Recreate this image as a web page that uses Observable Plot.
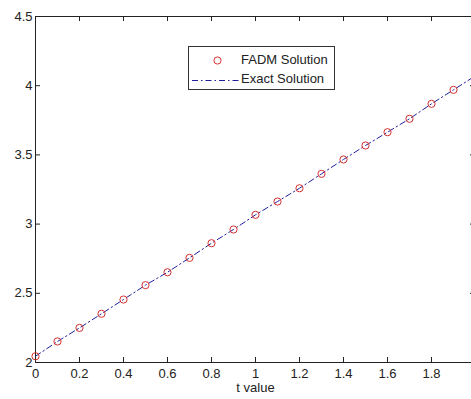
<!DOCTYPE html>
<html>
<head>
<meta charset="utf-8">
<script src="https://cdn.jsdelivr.net/npm/d3@7"></script>
<script src="https://cdn.jsdelivr.net/npm/@observablehq/plot@0.6"></script>
<style>
  html, body { margin: 0; padding: 0; background: #fff; overflow: hidden; }
  #wrap { position: relative; width: 471px; height: 399px; }
  #legend { position: absolute; left: 188px; top: 46px; width: 145px; height: 42px;
    border: 1px solid #333; background: #fff; font-family: "Liberation Sans", Arial, sans-serif;
    font-size: 13px; color: #222; }
  #legend .row { position: absolute; left: 0; height: 18px; width: 100%; }
  #legend .row span { position: absolute; left: 52px; top: 0px; }
  #legend svg { position: absolute; left: 0; top: 0; }
</style>
</head>
<body>
<div id="wrap"></div>
<script>
// FADM solution points
const tPoints = [0, 0.1, 0.2, 0.3, 0.4, 0.5, 0.6, 0.7, 0.8, 0.9, 1.0, 1.1, 1.2, 1.3, 1.4, 1.5, 1.6, 1.7, 1.8, 1.9];
const fadmValues = [2.045, 2.152, 2.250, 2.352, 2.455, 2.559, 2.652, 2.756, 2.862, 2.961, 3.067, 3.163, 3.259, 3.363, 3.467, 3.568, 3.664, 3.761, 3.869, 3.970];
// Exact solution line
const tExact = [0, 0.1, 0.2, 0.3, 0.4, 0.5, 0.6, 0.7, 0.8, 0.9, 1.0, 1.1, 1.2, 1.3, 1.4, 1.5, 1.6, 1.7, 1.8, 1.9, 2.0];
const exactValues = [2.045, 2.152, 2.250, 2.352, 2.455, 2.559, 2.652, 2.756, 2.862, 2.961, 3.067, 3.163, 3.259, 3.363, 3.467, 3.568, 3.664, 3.761, 3.869, 3.970, 4.072];
// Ticks
const xTicks = [0, 0.2, 0.4, 0.6, 0.8, 1, 1.2, 1.4, 1.6, 1.8];
const xTickLabels = ["0", "0.2", "0.4", "0.6", "0.8", "1", "1.2", "1.4", "1.6", "1.8"];
const yTicks = [2, 2.5, 3, 3.5, 4, 4.5];
const yTickLabels = ["2", "2.5", "3", "3.5", "4", "4.5"];
const xLabel = "t value";
const seriesNames = ["FADM Solution", "Exact Solution"];

const fadm = tPoints.map((t, i) => ({t, y: fadmValues[i]}));
const exact = tExact.map((t, i) => ({t, y: exactValues[i]}));

const axisColor = "#222";
const plot = Plot.plot({
  width: 471,
  height: 399,
  marginLeft: 35,
  marginRight: -4,
  marginTop: 16,
  marginBottom: 37,
  style: {fontFamily: "'Liberation Sans', Arial, sans-serif", fontSize: "13px", color: axisColor, background: "#fff"},
  x: {domain: [0, 2]},
  y: {domain: [2, 4.5]},
  marks: [
    Plot.frame({stroke: axisColor, strokeWidth: 1}),
    // inward ticks on all four sides
    Plot.tickX(xTicks, {x: d => d, insetTop: 341, stroke: axisColor}),
    Plot.tickX(xTicks, {x: d => d, insetBottom: 341, stroke: axisColor}),
    Plot.tickY(yTicks, {y: d => d, insetRight: 435, stroke: axisColor}),
    Plot.tickY(yTicks, {y: d => d, insetLeft: 435, stroke: axisColor}),
    Plot.axisX({ticks: xTicks, tickFormat: (d, i) => xTickLabels[i], tickSize: 0, tickPadding: 6, label: null}),
    Plot.axisY({ticks: yTicks, tickFormat: (d, i) => yTickLabels[i], tickSize: 0, tickPadding: 3, label: null}),
    Plot.text([xLabel], {frameAnchor: "bottom", dy: 29, fill: axisColor}),
    Plot.line(exact, {x: "t", y: "y", stroke: "#1f1f9f", strokeWidth: 1, strokeDasharray: "6,3,1.5,3"}),
    Plot.dot(fadm, {x: "t", y: "y", r: 3.6, stroke: "#d43030", strokeWidth: 1, fill: "none"})
  ]
});
const wrap = document.getElementById("wrap");
wrap.appendChild(plot);

// Legend
const legend = document.createElement("div");
legend.id = "legend";
legend.innerHTML = `
  <div class="row" style="top:5px"><svg width="52" height="18"><circle cx="28.5" cy="8.5" r="3.6" fill="none" stroke="#d43030" stroke-width="1"/></svg><span>${seriesNames[0]}</span></div>
  <div class="row" style="top:24px"><svg width="52" height="18"><line x1="3" y1="9.5" x2="51" y2="9.5" stroke="#1f1f9f" stroke-width="1" stroke-dasharray="6,3,1.5,3"/></svg><span>${seriesNames[1]}</span></div>`;
wrap.appendChild(legend);
</script>
</body>
</html>
